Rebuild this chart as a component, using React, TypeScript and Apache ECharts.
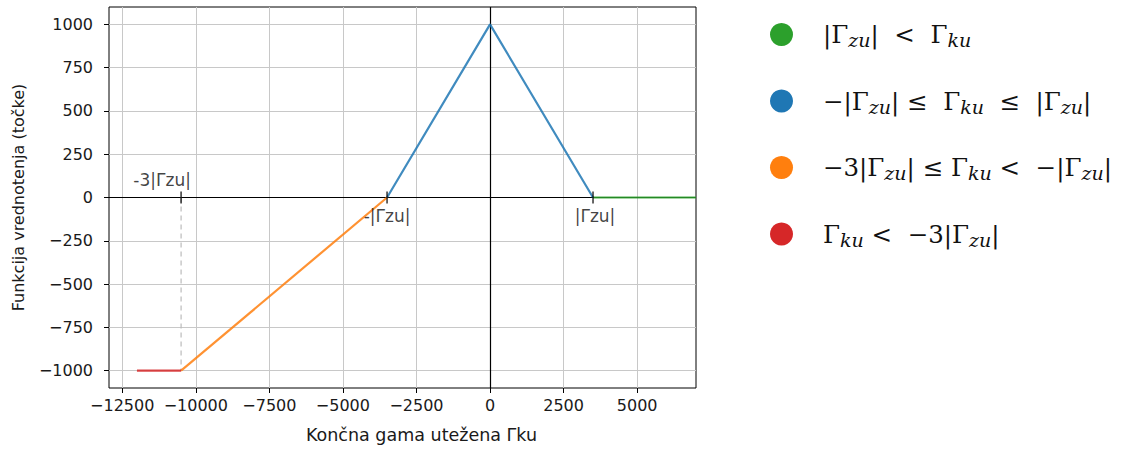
import React, { useEffect, useRef } from "react";
import * as echarts from "echarts";

// ---- data ----
const greenName = "|Γzu| < Γku";
const blueName = "−|Γzu| ≤ Γku ≤ |Γzu|";
const orangeName = "−3|Γzu| ≤ Γku < −|Γzu|";
const redName = "Γku < −3|Γzu|";

const greenPts = [[3500, 0], [7000, 0]];
const bluePts = [[-3500, 0], [0, 1000], [3500, 0]];
const orangePts = [[-10500, -1000], [-3500, 0]];
const redPts = [[-12000, -1000], [-10500, -1000]];

const dashedPts = [[-10500, 0], [-10500, -1000]];
const markTicks = [-10500, -3500, 3500];
const annotTexts = ["-3|Γzu|", "-|Γzu|", "|Γzu|"];
const annotX = [-10500, -3500, 3500];

const xTicks = [-12500, -10000, -7500, -5000, -2500, 0, 2500, 5000];
const yTicks = [-1000, -750, -500, -250, 0, 250, 500, 750, 1000];
const xMin = -12950, xMax = 7000, yMin = -1100, yMax = 1100;

const legendRich: Record<string, string> = {
  [greenName]: "{g| }{m||Γ}{s|zu}{m||  <  Γ}{s|ku}",
  [blueName]: "{g| }{m|−|Γ}{s|zu}{m|| ≤  Γ}{s|ku}{m|  ≤  |Γ}{s|zu}{m||}",
  [orangeName]: "{g| }{m|−3|Γ}{s|zu}{m|| ≤ Γ}{s|ku}{m| <  −|Γ}{s|zu}{m||}",
  [redName]: "{g| }{m|Γ}{s|ku}{m| <  −3|Γ}{s|zu}{m||}",
};

const colors = {
  green: "#2ca02c",
  blue: "#1f77b4",
  orange: "#ff7f0e",
  red: "#d62728",
};

const fmt = (v: number) => String(v).replace("-", "\u2212");
const font = "DejaVu Sans";
const txt = "#1a1a1a";

export default function App() {
  const ref = useRef<HTMLDivElement>(null);
  useEffect(() => {
    if (!ref.current) return;
    const chart = echarts.init(ref.current, undefined, { renderer: "svg" });
    const lineSeries = (name: string, data: number[][], color: string) => ({
      name,
      type: "line",
      data,
      symbol: "none",
      color,
      lineStyle: { color, width: 2.2, opacity: 0.85 },
      z: 3,
    });
    const annotOffsets = [[-19, -18], [0, 18], [2, 18]];
    chart.setOption({
      animation: false,
      grid: {
        left: 109, right: 435, top: 7, bottom: 60,
        show: true, borderColor: "#000", borderWidth: 1, backgroundColor: "transparent",
      },
      xAxis: {
        type: "value", min: xMin, max: xMax,
        name: "Končna gama utežena Γku", nameLocation: "middle", nameGap: 38,
        nameTextStyle: { fontFamily: font, fontSize: 17.5, color: txt, padding: [0, 0, 0, 38] },
        axisLine: { show: false, onZero: false },
        axisTick: { show: true, customValues: xTicks, length: 5, lineStyle: { color: "#000" } },
        axisLabel: { customValues: xTicks, formatter: fmt, fontFamily: font, fontSize: 16, color: txt, margin: 9 },
        splitLine: { show: true, lineStyle: { color: "#c8c8c8", width: 1 } },
      },
      yAxis: {
        type: "value", min: yMin, max: yMax,
        name: "Funkcija vrednotenja (točke)", nameLocation: "middle", nameGap: 83,
        nameTextStyle: { fontFamily: font, fontSize: 16, color: txt },
        axisLine: { show: false, onZero: false },
        axisTick: { show: true, customValues: yTicks, length: 5, lineStyle: { color: "#000" } },
        axisLabel: { customValues: yTicks, formatter: fmt, fontFamily: font, fontSize: 16, color: txt, margin: 16 },
        splitLine: { show: true, lineStyle: { color: "#c8c8c8", width: 1 } },
      },
      legend: {
        orient: "vertical", left: 765, top: 17,
        itemWidth: 23, itemHeight: 23, itemGap: 39, icon: "circle",
        data: [greenName, blueName, orangeName, redName],
        formatter: (n: string) => legendRich[n] || n,
        textStyle: {
          rich: {
            g: { width: 25 },
            m: { fontFamily: "DejaVu Serif", fontSize: 24.5, color: "#111", lineHeight: 30, verticalAlign: "middle" },
            s: { fontFamily: "DejaVu Serif", fontStyle: "italic", fontSize: 19, color: "#111", lineHeight: 19, verticalAlign: "bottom" },
          },
        },
      },
      series: [
        {
          ...lineSeries(blueName, bluePts, colors.blue),
          markLine: {
            silent: true, symbol: "none", label: { show: false },
            lineStyle: { color: "#000", width: 1.2, type: "solid" },
            data: [{ xAxis: 0 }, { yAxis: 0 }],
            z: 2,
          },
        },
        lineSeries(greenName, greenPts, colors.green),
        lineSeries(orangeName, orangePts, colors.orange),
        lineSeries(redName, redPts, colors.red),
        {
          type: "line", name: "dash", data: dashedPts, symbol: "none",
          lineStyle: { color: "#bbb", width: 1.2, type: [5, 4] }, z: 2,
        },
        {
          type: "scatter", name: "ticks", data: markTicks.map((x) => [x, 0]),
          symbol: "rect", symbolSize: [1.5, 12], itemStyle: { color: "#000" }, z: 4, silent: true,
        },
        {
          type: "scatter", name: "annot", silent: true, symbolSize: 0.1,
          itemStyle: { color: "transparent" },
          data: annotX.map((x, i) => ({
            value: [x, 0],
            label: {
              show: true, formatter: annotTexts[i], position: "inside",
              offset: annotOffsets[i], fontFamily: font, fontSize: 17, color: "#111",
            },
          })),
          z: 5,
        },
      ],
    });
    return () => chart.dispose();
  }, []);
  return (
    <div
      ref={ref}
      style={{ position: "fixed", left: 0, top: 0, width: 1131, height: 449, background: "#fff" }}
    />
  );
}
